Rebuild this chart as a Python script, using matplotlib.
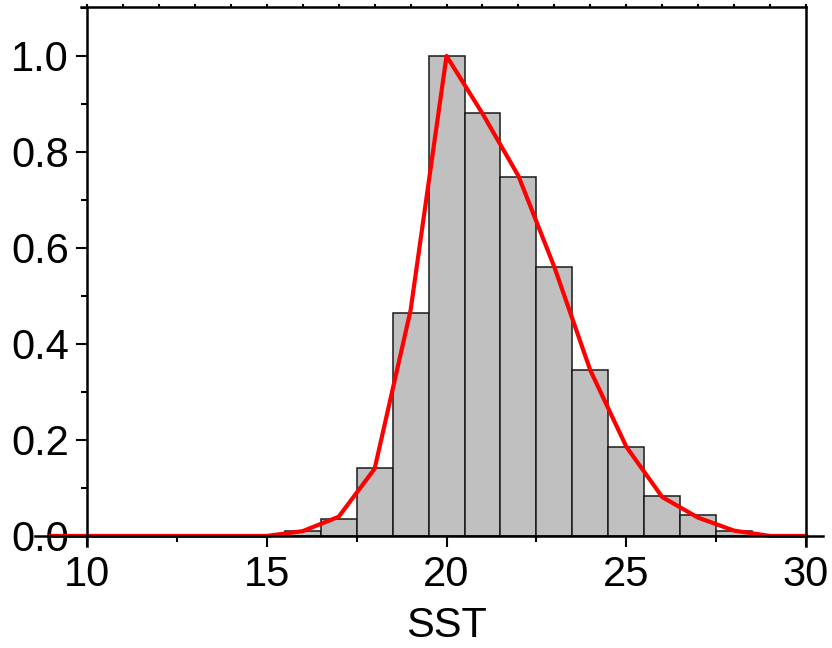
import matplotlib.pyplot as plt
from matplotlib.ticker import MultipleLocator

plt.rcParams["font.family"] = ["Liberation Sans", "DejaVu Sans"]

# histogram bars (bin centres, normalised heights)
bar_x = [16, 17, 18, 19, 20, 21, 22, 23, 24, 25, 26, 27, 28]
bar_h = [0.011, 0.035, 0.142, 0.465, 1.0, 0.881, 0.748, 0.560, 0.346, 0.186, 0.083, 0.044, 0.011]

# fitted curve
line_x = [9, 10, 11, 12, 13, 14, 15, 16, 17, 18, 19, 20, 21, 22, 23, 24, 25, 26, 27, 28, 29, 30]
line_y = [0, 0, 0, 0, 0, 0, 0.0, 0.01, 0.04, 0.14, 0.47, 1.0, 0.88, 0.75, 0.56, 0.345, 0.186,
          0.081, 0.038, 0.011, 0.0, 0.0]

fig = plt.figure(figsize=(8.32, 6.48), dpi=100)
ax = fig.add_axes([0.1046, 0.1574, 0.8642, 0.8318])

ax.bar(bar_x, bar_h, width=1.0, color="#c0c0c0", edgecolor="#1a1a1a", linewidth=1.1, zorder=2)
ax.plot(line_x, line_y, color="#ff0000", linewidth=3.0, clip_on=False, zorder=3)

ax.set_xlim(10, 30)
ax.set_ylim(-0.021, 1.102)

ax.spines["bottom"].set_position(("data", 0))
ax.spines["bottom"].set_bounds(8.55, 30.47)
ax.spines["top"].set_bounds(9.83, 30)
for s in ax.spines.values():
    s.set_linewidth(1.8)
    s.set_zorder(4)
    s.set_clip_on(False)

ax.xaxis.set_major_locator(MultipleLocator(5))
ax.xaxis.set_minor_locator(MultipleLocator(2.5))
ax.yaxis.set_major_locator(MultipleLocator(0.2))
ax.yaxis.set_minor_locator(MultipleLocator(0.1))
ax.tick_params(which="major", direction="out", length=8, width=1.5, labelsize=30, pad=6)
ax.tick_params(which="minor", direction="out", length=4, width=1.5)
ax.tick_params(axis="y", which="major", pad=5)

top = ax.secondary_xaxis("top")
top.xaxis.set_major_locator(MultipleLocator(1))
top.tick_params(direction="out", length=2, width=1.5, labelsize=0, labeltop=False)
top.spines["top"].set_visible(False)

ax.set_xlabel("SST", fontsize=30, labelpad=8)

plt.savefig("out.png", dpi=100)
